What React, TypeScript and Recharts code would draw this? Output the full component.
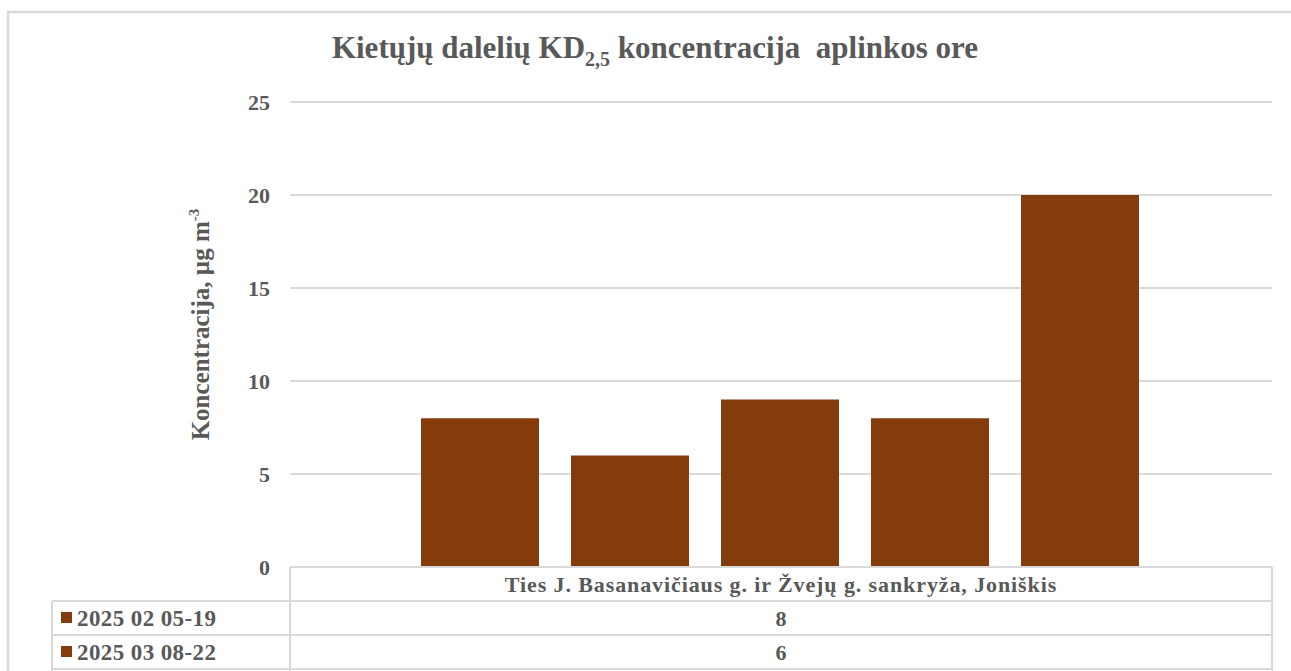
import { BarChart, Bar, XAxis, YAxis, CartesianGrid } from "recharts";

const categories = ["Ties J. Basanavičiaus g. ir Žvejų g. sankryža, Joniškis"];
const seriesNames = ["2025 02 05-19", "2025 03 08-22", "Matavimas 3", "Matavimas 4", "Matavimas 5"];
const seriesValues = [8, 6, 9, 8, 20];
const yTicks = [0, 5, 10, 15, 20, 25];

const barColor = "#843C0C";
const textColor = "#595959";
const lineColor = "#d9d9d9";
const font = "'Liberation Serif', 'Times New Roman', serif";
const chartW = 1291;
const chartH = 671;

const data = categories.map((name) => {
    const row: Record<string, string | number> = { name };
    seriesValues.forEach((v, i) => (row["s" + i] = v));
    return row;
});

// data table drawn under the plot, like the Excel chart
function TableTick(props: any) {
    const { x, y, width, payload } = props;
    const w = width ?? 982;
    const left = x - w / 2;
    const right = x + w / 2;
    const rowH = 34;
    const keyLeft = 52;
    const bottom = y + rowH * (seriesNames.length + 1);
    return (
        <g fontFamily={font} fontWeight="bold" fill={textColor}>
            <line x1={left} x2={left} y1={y} y2={bottom} stroke={lineColor} strokeWidth={2} />
            <line x1={right} x2={right} y1={y} y2={bottom} stroke={lineColor} strokeWidth={2} />
            <line x1={keyLeft} x2={keyLeft} y1={y + rowH} y2={bottom} stroke={lineColor} strokeWidth={2} />
            <text x={x} y={y + 25} textAnchor="middle" fontSize={22} letterSpacing={0.9}>{payload.value}</text>
            {seriesNames.map((s, i) => {
                const top = y + rowH * (i + 1);
                // rows below the visible area are cut off in the original too
                const visible = top + rowH <= chartH + 4;
                return (
                    <g key={s}>
                        <line x1={keyLeft} x2={right} y1={top} y2={top} stroke={lineColor} strokeWidth={2} />
                        {visible && (
                            <>
                                <rect x={keyLeft + 9} y={top + 11} width={11} height={11} fill={barColor} />
                                <text x={keyLeft + 25} y={top + 25} fontSize={23} letterSpacing={0.4}>{s}</text>
                                <text x={x} y={top + 25} textAnchor="middle" fontSize={22}>{seriesValues[i]}</text>
                            </>
                        )}
                    </g>
                );
            })}
        </g>
    );
}

function YLabel(props: any) {
    const { viewBox } = props;
    const cx = viewBox.x - 30;
    const cy = viewBox.y + viewBox.height / 2 - 10;
    return (
        <text
            x={cx}
            y={cy}
            transform={`rotate(-90 ${cx} ${cy})`}
            textAnchor="middle"
            dy="0.35em"
            fontFamily={font}
            fontWeight="bold"
            fontSize={25}
            fill={textColor}
        >
            Koncentracija, µg m
            <tspan fontSize={15} dy={-10}>-3</tspan>
        </text>
    );
}

export default function App() {
    return (
        <div style={{ position: "fixed", left: 0, top: 0, width: chartW, height: chartH, overflow: "hidden", background: "#fff" }}>
            <BarChart
                width={chartW}
                height={chartH}
                data={data}
                margin={{ top: 102, right: 19, left: 230, bottom: 0 }}
                barCategoryGap={131}
                barGap={32}
            >
                <CartesianGrid vertical={false} stroke={lineColor} strokeWidth={2} />
                <XAxis
                    dataKey="name"
                    height={104}
                    axisLine={{ stroke: lineColor, strokeWidth: 2 }}
                    tickLine={false}
                    tickSize={0}
                    tickMargin={0}
                    tick={<TableTick />}
                />
                <YAxis
                    width={60}
                    domain={[0, 25]}
                    ticks={yTicks}
                    axisLine={false}
                    tickLine={false}
                    tickSize={0}
                    tickMargin={20}
                    tick={{ fill: textColor, fontSize: 22, fontWeight: "bold", fontFamily: font }}
                    label={<YLabel />}
                />
                {seriesNames.map((s, i) => (
                    <Bar key={s} dataKey={"s" + i} name={s} fill={barColor} isAnimationActive={false} />
                ))}
            </BarChart>
            <svg width={chartW} height={chartH} style={{ position: "absolute", left: 0, top: 0, pointerEvents: "none" }}>
                <rect x={8} y={12} width={1400} height={800} fill="none" stroke={lineColor} strokeWidth={2.5} />
                <text
                    x={655}
                    y={58}
                    textAnchor="middle"
                    fontFamily={font}
                    fontWeight="bold"
                    fontSize={31}
                    fill={textColor}
                    style={{ whiteSpace: "pre" }}
                >
                    Kietųjų dalelių KD
                    <tspan fontSize={20} dy={8}>2,5</tspan>
                    <tspan dy={-8}>{" koncentracija  aplinkos ore"}</tspan>
                </text>
            </svg>
        </div>
    );
}
